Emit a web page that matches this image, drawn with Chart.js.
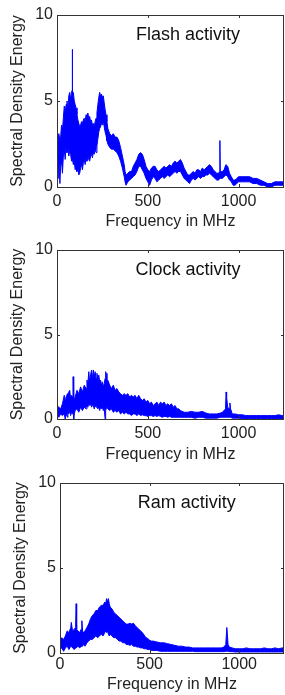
<!DOCTYPE html>
<html lang="en">
<head>
    <meta charset="UTF-8">
    <title>Spectral Density Energy</title>
    <script src="https://cdn.jsdelivr.net/npm/chart.js"></script>
    <style>
        body {
            margin: 0;
            background: #fff;
            width: 285px;
            height: 695px;
            overflow: hidden;
            position: relative;
        }
        .panel {
            position: absolute;
            left: 0;
            width: 285px;
        }
    </style>
</head>
<body>
    <div class="panel" style="top:0;height:232px"><canvas id="flash" width="285" height="232"></canvas></div>
    <div class="panel" style="top:232px;height:233px"><canvas id="clock" width="285" height="233"></canvas></div>
    <div class="panel" style="top:465px;height:230px"><canvas id="ram" width="285" height="230"></canvas></div>

    <script>
        // tick labels
        const xTicks = [0, 500, 1000];
        const yTicks = [0, 5, 10];

        // Flash activity: upper / lower edge of the noisy band
        const flashFreq = [0,5,10,16,20,25,30,35,40,45,50,55,60,65,70,75,80,83,84,86,90,95,100,105,110,115,120,125,130,135,140,145,150,155,160,165,170,175,180,185,190,195,200,205,210,215,220,225,230,235,240,245,250,255,260,265,270,275,280,290,300,310,320,330,340,350,360,370,375,380,390,400,410,420,430,440,450,460,470,480,490,500,510,520,530,540,550,560,570,580,590,600,610,620,630,640,650,660,670,680,690,700,710,720,730,740,750,760,770,780,790,800,810,820,830,840,850,860,870,880,890,895,897,899,905,910,920,930,940,950,960,970,980,990,1000,1020,1040,1060,1080,1100,1120,1140,1160,1180,1200,1220,1240,1250];
        const flashHigh = [3.0,2.6,3.1,2.7,2.9,3.6,3.3,4.0,4.7,4.3,4.8,5.0,4.6,5.3,5.5,5.1,5.5,5.6,8.0,5.4,5.5,5.0,4.8,4.6,4.2,3.9,3.7,3.5,3.6,3.8,3.7,3.9,4.0,3.8,4.2,4.1,4.3,4.0,4.1,3.8,3.9,3.6,3.7,3.5,3.8,4.0,4.3,4.8,5.2,5.5,5.3,5.4,5.2,5.3,4.9,4.5,4.2,3.8,3.4,3.1,3.0,3.1,2.9,2.9,2.7,2.3,1.8,1.3,0.9,0.7,0.8,0.9,0.9,1.2,1.4,1.6,1.9,2.0,1.9,1.6,1.2,1.0,0.9,1.1,1.2,1.2,1.0,0.9,1.0,1.1,1.2,1.1,1.2,1.3,1.2,1.4,1.5,1.4,1.5,1.6,1.4,1.1,0.9,0.7,0.7,0.8,0.9,0.8,1.0,1.0,0.9,1.1,1.0,1.1,1.2,1.3,1.2,1.0,0.9,0.8,0.8,0.9,2.7,0.9,0.9,0.9,1.0,1.3,1.2,0.8,0.6,0.4,0.4,0.5,0.6,0.6,0.6,0.6,0.5,0.5,0.4,0.3,0.2,0.2,0.3,0.3,0.3,0.3];
        const flashLow = [1.0,0.5,1.6,0.2,1.2,1.5,0.8,1.8,2.2,1.6,2.4,2.0,2.3,1.8,2.1,1.9,1.5,1.8,1.8,1.6,1.3,1.5,1.0,1.2,0.9,1.1,0.7,0.8,1.1,1.3,1.0,1.4,1.6,1.3,1.7,1.5,1.8,1.6,1.5,1.8,1.9,1.7,2.0,1.9,2.2,2.0,2.4,2.8,3.2,3.4,3.5,3.7,3.6,3.8,3.5,3.2,3.0,2.7,2.5,2.3,2.2,2.2,2.1,2.0,1.8,1.5,1.1,0.6,0.3,0.1,0.3,0.4,0.5,0.6,0.7,0.9,1.2,1.2,1.0,0.8,0.5,0.3,0.1,0.4,0.6,0.5,0.3,0.4,0.5,0.6,0.5,0.6,0.7,0.6,0.7,0.8,0.9,0.8,0.9,0.9,0.7,0.5,0.4,0.3,0.2,0.4,0.5,0.4,0.5,0.6,0.5,0.6,0.6,0.7,0.7,0.8,0.7,0.6,0.5,0.4,0.4,0.5,0.5,0.5,0.5,0.5,0.6,0.7,0.6,0.4,0.3,0.1,0.1,0.2,0.3,0.3,0.3,0.3,0.2,0.2,0.1,0.1,0.0,0.0,0.1,0.1,0.1,0.1];

        // Clock activity
        const clockFreq = [0,10,20,30,40,45,50,58,60,65,70,75,80,85,88,90,92,95,100,110,120,130,140,150,160,165,170,175,180,185,190,195,200,205,210,215,220,225,230,235,240,245,250,255,260,265,268,270,275,280,290,300,310,320,330,340,350,360,370,380,390,400,410,420,430,440,450,460,470,480,490,500,510,520,530,540,550,560,570,580,590,600,610,620,630,640,650,660,670,680,700,720,740,760,780,800,820,840,860,880,900,910,920,928,931,934,940,948,952,956,965,980,1000,1020,1040,1060,1080,1100,1120,1140,1160,1180,1200,1220,1240,1250];
        const clockHigh = [0.8,0.7,0.6,0.9,1.4,1.0,1.3,1.5,1.0,1.6,1.7,1.2,1.4,1.3,2.5,2.5,1.3,1.2,1.3,1.7,1.5,1.9,1.6,2.0,1.8,2.3,2.1,2.8,2.2,2.6,2.9,2.4,2.9,2.5,2.8,2.4,2.7,2.3,2.6,2.2,2.3,2.0,2.2,1.9,2.1,2.4,2.8,2.7,2.2,2.3,2.0,1.8,2.0,1.7,1.8,1.6,1.5,1.4,1.5,1.4,1.5,1.3,1.4,1.3,1.4,1.2,1.4,1.2,1.1,1.2,1.0,1.1,0.9,1.0,0.8,0.9,1.0,0.8,1.0,0.9,1.0,0.8,0.9,0.8,0.9,0.7,0.8,0.6,0.6,0.5,0.4,0.4,0.45,0.4,0.4,0.45,0.35,0.3,0.3,0.3,0.35,0.4,0.5,0.6,1.6,1.3,0.7,0.6,0.95,0.6,0.3,0.3,0.25,0.25,0.2,0.2,0.2,0.2,0.2,0.2,0.2,0.2,0.2,0.25,0.2,0.2];
        const clockLow = [0.3,0.1,0.3,0.2,0.3,0.0,0.3,0.1,0.4,0.3,0.5,0.2,0.4,0.3,0.3,0.3,0.0,0.3,0.5,0.6,0.4,0.7,0.5,0.7,0.6,0.8,0.7,0.9,0.8,0.9,0.7,0.8,0.8,0.6,0.8,0.7,0.8,0.6,0.7,0.5,0.7,0.6,0.7,0.5,0.6,0.0,0.5,0.6,0.7,0.6,0.5,0.6,0.4,0.5,0.4,0.5,0.3,0.4,0.3,0.4,0.3,0.3,0.2,0.3,0.3,0.2,0.3,0.2,0.25,0.2,0.2,0.15,0.2,0.2,0.15,0.2,0.15,0.2,0.15,0.1,0.15,0.15,0.1,0.15,0.1,0.1,0.1,0.1,0.1,0.1,0.1,0.1,0.1,0.05,0.1,0.1,0.05,0.05,0.05,0.05,0.1,0.1,0.1,0.1,0.1,0.1,0.1,0.1,0.1,0.1,0.05,0.05,0.05,0.03,0.03,0.03,0.03,0.03,0.03,0.03,0.03,0.03,0.03,0.03,0.03,0.03];

        // Ram activity
        const ramFreq = [0,10,20,30,40,50,60,63,70,80,87,90,93,100,110,118,122,126,130,140,150,160,170,180,190,200,210,220,230,240,250,255,260,265,270,275,280,290,300,310,320,330,340,350,360,370,380,390,400,410,420,430,440,450,460,470,480,490,500,510,520,540,560,580,600,620,640,660,680,700,720,740,760,780,800,820,840,860,880,900,915,925,931,934,938,945,960,980,1000,1020,1040,1060,1080,1100,1120,1140,1160,1180,1200,1220,1240,1250];
        const ramHigh = [0.7,0.9,0.8,1.0,1.3,1.2,1.5,1.8,1.3,1.4,1.5,2.9,1.4,1.3,1.2,1.4,1.9,1.3,1.2,1.3,1.5,1.7,2.0,2.2,2.3,2.5,2.5,2.7,2.8,2.8,3.0,2.9,3.2,3.0,3.2,2.9,2.7,2.6,2.4,2.3,2.2,2.1,2.0,1.9,1.8,1.7,1.7,1.75,1.7,1.75,1.6,1.5,1.4,1.3,1.2,1.05,0.9,0.85,0.75,0.7,0.7,0.65,0.6,0.6,0.55,0.5,0.45,0.4,0.4,0.35,0.35,0.3,0.3,0.3,0.3,0.3,0.3,0.3,0.3,0.3,0.35,0.5,1.5,1.1,0.5,0.35,0.3,0.25,0.25,0.25,0.3,0.25,0.25,0.25,0.25,0.3,0.25,0.25,0.3,0.25,0.3,0.3];
        const ramLow = [0.2,0.3,0.1,0.3,0.4,0.2,0.4,0.4,0.3,0.2,0.3,0.3,0.3,0.4,0.3,0.4,0.4,0.4,0.5,0.4,0.6,0.7,0.8,0.8,0.9,1.0,0.9,1.0,1.1,1.0,1.2,1.3,1.2,1.3,1.1,1.0,1.1,1.0,0.9,0.9,0.8,0.7,0.7,0.6,0.6,0.5,0.5,0.45,0.5,0.4,0.4,0.35,0.35,0.3,0.3,0.25,0.25,0.2,0.2,0.15,0.15,0.15,0.1,0.1,0.1,0.1,0.1,0.1,0.1,0.1,0.1,0.1,0.08,0.08,0.08,0.08,0.08,0.08,0.08,0.08,0.08,0.1,0.1,0.1,0.1,0.08,0.08,0.06,0.06,0.06,0.06,0.06,0.06,0.06,0.06,0.06,0.06,0.06,0.06,0.06,0.06,0.06];

        Chart.defaults.font.family = '"Liberation Sans", Arial, sans-serif';
        Chart.defaults.color = '#222';

        // box round the plot, small inward ticks, and the panel note
        const framePlugin = {
            id: 'frame',
            afterDatasetsDraw(chart, args, opts) {
                const {ctx, chartArea: a, scales: {x, y}} = chart;
                ctx.save();
                ctx.strokeStyle = '#333';
                ctx.lineWidth = 1;
                ctx.strokeRect(Math.round(a.left) + 0.5, Math.round(a.top) + 0.5,
                    Math.round(a.right - a.left) - 1, Math.round(a.bottom - a.top));
                ctx.beginPath();
                xTicks.forEach(v => {
                    const px = Math.round(x.getPixelForValue(v)) + 0.5;
                    ctx.moveTo(px, a.top); ctx.lineTo(px, a.top + 3);
                    ctx.moveTo(px, a.bottom); ctx.lineTo(px, a.bottom - 3);
                });
                yTicks.forEach(v => {
                    const py = Math.round(y.getPixelForValue(v)) + 0.5;
                    ctx.moveTo(a.left, py); ctx.lineTo(a.left + 3, py);
                    ctx.moveTo(a.right, py); ctx.lineTo(a.right - 3, py);
                });
                ctx.stroke();
                ctx.fillStyle = '#111';
                ctx.font = '18px "Liberation Sans", Arial, sans-serif';
                ctx.textAlign = 'center';
                ctx.textBaseline = 'middle';
                ctx.fillText(opts.text, x.getPixelForValue(opts.x), y.getPixelForValue(opts.y));
                ctx.restore();
            }
        };

        const makeChart = (id, freq, high, low, note, box) => {
            const pts = arr => freq.map((f, i) => ({x: f, y: arr[i]}));
            return new Chart(document.getElementById(id), {
                type: 'line',
                data: {
                    datasets: [{
                        data: pts(high),
                        borderColor: '#0000ff',
                        backgroundColor: '#0000ff',
                        borderWidth: 1,
                        pointRadius: 0,
                        fill: '+1'
                    }, {
                        data: pts(low),
                        borderColor: '#0000ff',
                        borderWidth: 1,
                        pointRadius: 0,
                        fill: false
                    }]
                },
                options: {
                    responsive: false,
                    animation: false,
                    events: [],
                    layout: {padding: {top: box.top, right: 1, bottom: 1, left: box.left}},
                    plugins: {
                        legend: {display: false},
                        tooltip: {enabled: false},
                        frame: note
                    },
                    scales: {
                        x: {
                            type: 'linear',
                            min: 0,
                            max: 1250,
                            grid: {display: false, drawTicks: false},
                            border: {display: false},
                            ticks: {padding: box.tickPad, font: {size: 16}, callback: v => String(v)},
                            title: {display: true, text: 'Frequency in MHz', font: {size: 16}, padding: 0},
                            afterBuildTicks: s => { s.ticks = xTicks.map(v => ({value: v})); },
                            afterFit: s => { s.height = box.xh; }
                        },
                        y: {
                            min: 0,
                            max: 10,
                            grid: {display: false, drawTicks: false},
                            border: {display: false},
                            ticks: {padding: 4, font: {size: 16}, callback: v => String(v)},
                            title: {display: true, text: 'Spectral Density Energy', font: {size: 16}, padding: 0},
                            afterBuildTicks: s => { s.ticks = yTicks.map(v => ({value: v})); },
                            afterFit: s => { s.width = box.yw; }
                        }
                    }
                },
                plugins: [framePlugin]
            });
        };

        makeChart('flash', flashFreq, flashHigh, flashLow,
            {text: 'Flash activity', x: 721, y: 8.85},
            {top: 15, left: 8, yw: 49, xh: 44, tickPad: 5});
        makeChart('clock', clockFreq, clockHigh, clockLow,
            {text: 'Clock activity', x: 721, y: 8.8},
            {top: 18, left: 8, yw: 49, xh: 45, tickPad: 5});
        makeChart('ram', ramFreq, ramHigh, ramLow,
            {text: 'Ram activity', x: 707, y: 8.8},
            {top: 18, left: 11, yw: 49, xh: 41, tickPad: 2});
    </script>
</body>
</html>
